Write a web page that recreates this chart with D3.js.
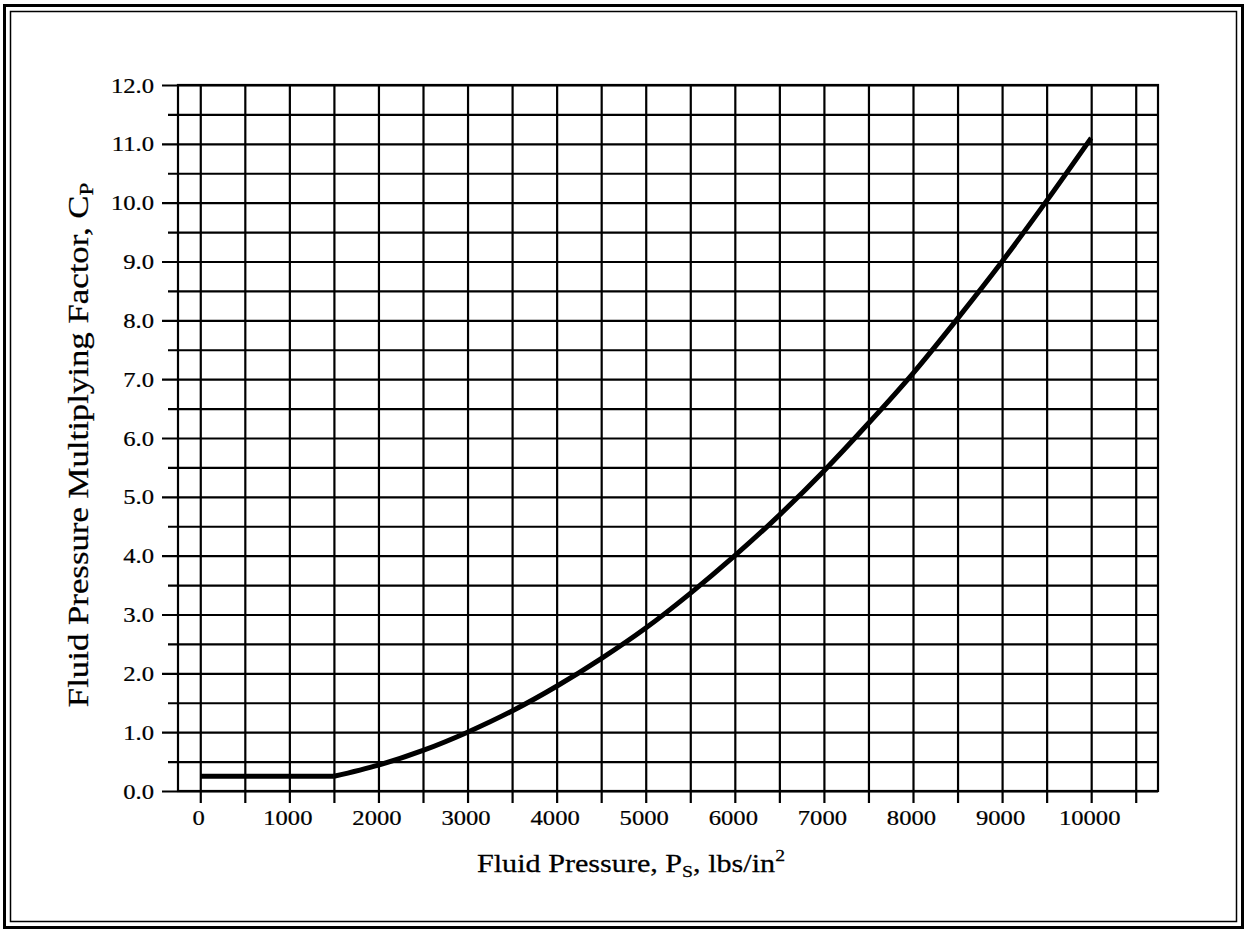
<!DOCTYPE html>
<html>
<head>
<meta charset="utf-8">
<script src="https://cdn.jsdelivr.net/npm/d3@7/dist/d3.min.js"></script>
<style>
  html, body { margin: 0; padding: 0; background: #fff; }
  svg { display: block; }
  text { font-family: "Liberation Serif", "Times New Roman", serif; fill: #000; stroke: #000; stroke-width: 0.25px; }
</style>
</head>
<body>
<svg id="chart" width="1247" height="931"></svg>
<script>
// ---- data ----
const pressure = [0, 1500, 2000, 2500, 3000, 3500, 4000, 4500, 5000, 5500, 6000, 6500, 7000, 7500, 8000, 8500, 9000, 9500, 10000];
const factor   = [0.25, 0.25, 0.44, 0.69, 1.0, 1.36, 1.78, 2.25, 2.77, 3.36, 4.0, 4.69, 5.44, 6.25, 7.1, 8.03, 9.0, 10.03, 11.1];
const xTickValues = [0, 1000, 2000, 3000, 4000, 5000, 6000, 7000, 8000, 9000, 10000];
const xTickLabels = ["0", "1000", "2000", "3000", "4000", "5000", "6000", "7000", "8000", "9000", "10000"];
const yTickValues = [0, 1, 2, 3, 4, 5, 6, 7, 8, 9, 10, 11, 12];
const yTickLabels = ["0.0", "1.0", "2.0", "3.0", "4.0", "5.0", "6.0", "7.0", "8.0", "9.0", "10.0", "11.0", "12.0"];
const xGridValues = d3.range(0, 10501, 500);
const yMinorValues = d3.range(0.5, 12, 1);
const xDomain = [-250, 10750];
const yDomain = [0, 12];
const xTitle = "Fluid Pressure, P";
const yTitle = "Fluid Pressure Multiplying Factor, C";

// ---- layout ----
const svg = d3.select("#chart");
const L = 178, R = 1158, T = 85, B = 791;
const W = R - L, H = B - T;
const x = d3.scaleLinear().domain(xDomain).range([L, R]);
const y = d3.scaleLinear().domain(yDomain).range([B, T]);
const GRID_W = 2.2;
const SX = 1.12; // horizontal stretch of scanned lettering

// outer double border
svg.append("rect").attr("x", 4.5).attr("y", 5.5).attr("width", 1238).attr("height", 922)
  .attr("fill", "none").attr("stroke", "#000").attr("stroke-width", 3);
svg.append("rect").attr("x", 10.5).attr("y", 11.5).attr("width", 1226).attr("height", 910)
  .attr("fill", "none").attr("stroke", "#000").attr("stroke-width", 1.5);

// vertical grid lines with ticks extending below plot
const xAxisIdx = v => xTickValues.indexOf(v);
const gx = svg.append("g").attr("transform", `translate(0,${B + 12})`)
  .call(d3.axisBottom(x).tickValues(xGridValues).tickSize(-(H + 12)).tickSizeOuter(0)
    .tickPadding(22).tickFormat(v => xAxisIdx(v) >= 0 ? xTickLabels[xAxisIdx(v)] : ""));
gx.select(".domain").remove();
gx.selectAll(".tick line").attr("stroke", "#000").attr("stroke-width", GRID_W);
gx.selectAll(".tick text").attr("font-size", 22).attr("y", null).attr("dy", null)
  .attr("transform", `translate(-2,22) scale(${SX},1)`);

// minor horizontal lines (short left extension)
const gyMinor = svg.append("g").attr("transform", `translate(${L - 10},0)`)
  .call(d3.axisLeft(y).tickValues(yMinorValues).tickSize(-(W + 10)).tickSizeOuter(0).tickFormat(""));
gyMinor.select(".domain").remove();
gyMinor.selectAll(".tick line").attr("stroke", "#000").attr("stroke-width", GRID_W);

// major horizontal lines (longer left extension) with labels
const gy = svg.append("g").attr("transform", `translate(${L - 16},0)`)
  .call(d3.axisLeft(y).tickValues(yTickValues).tickSize(-(W + 16)).tickSizeOuter(0)
    .tickPadding(7).tickFormat(v => yTickLabels[yTickValues.indexOf(v)]));
gy.select(".domain").remove();
gy.selectAll(".tick line").attr("stroke", "#000").attr("stroke-width", GRID_W);
gy.selectAll(".tick text").attr("font-size", 22).attr("x", null)
  .attr("transform", `translate(-8,0) scale(${SX},1)`);

// plot frame
svg.append("rect").attr("x", x(xDomain[0])).attr("y", y(yDomain[1]))
  .attr("width", x(xDomain[1]) - x(xDomain[0])).attr("height", y(yDomain[0]) - y(yDomain[1]))
  .attr("fill", "none").attr("stroke", "#000").attr("stroke-width", GRID_W);

// curve: flat segment then rising curve
const pts = pressure.map((p, i) => [p, factor[i]]);
const flat = pts.slice(0, 2);
const rise = pts.slice(1);
svg.append("path").datum(flat)
  .attr("d", d3.line().x(d => x(d[0])).y(d => y(d[1])))
  .attr("fill", "none").attr("stroke", "#000").attr("stroke-width", 5).attr("stroke-linecap", "butt");
svg.append("path").datum(rise)
  .attr("d", d3.line().curve(d3.curveMonotoneX).x(d => x(d[0])).y(d => y(d[1])))
  .attr("fill", "none").attr("stroke", "#000").attr("stroke-width", 5).attr("stroke-linejoin", "round");

// x axis title
const xt = svg.append("text").attr("text-anchor", "middle").attr("font-size", 26)
  .attr("transform", `translate(631,872) scale(1.16,1)`);
xt.append("tspan").text(xTitle);
xt.append("tspan").attr("font-size", 17).attr("dy", 5).text("S");
xt.append("tspan").attr("dy", -5).text(", lbs/in");
xt.append("tspan").attr("font-size", 17).attr("dy", -11).text("2");

// y axis title
const yt = svg.append("text").attr("text-anchor", "middle").attr("font-size", 29)
  .attr("transform", `translate(88,445) rotate(-90) scale(1.2,1)`);
yt.append("tspan").text(yTitle);
yt.append("tspan").attr("font-size", 19).attr("dy", 5).text("P");
</script>
</body>
</html>
